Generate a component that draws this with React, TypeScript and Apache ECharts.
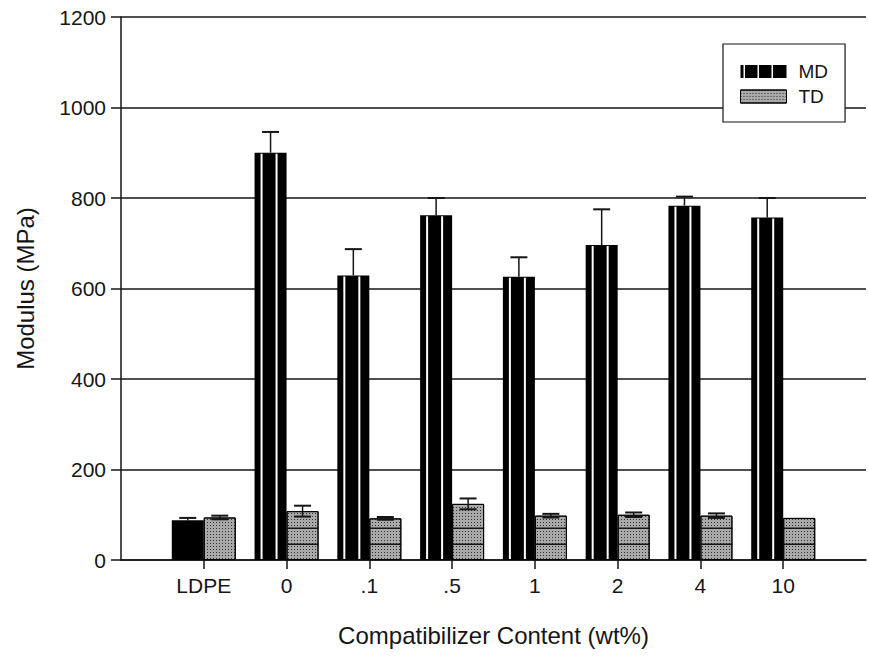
import React, { useEffect, useRef } from 'react';
import * as echarts from 'echarts';

// ---- data ----
const categories = ['LDPE', '0', '.1', '.5', '1', '2', '4', '10'];
const mdValues = [88, 900, 629, 762, 626, 696, 783, 757];
const mdErrors = [5, 46, 58, 38, 43, 79, 20, 43];
const tdValues = [94, 108, 92, 124, 98, 100, 98, 93];
const tdErrors = [4, 12, 3, 12, 4, 5, 5, 0];
const yMin = 0;
const yMax = 1200;
const yStep = 200;

// ---- styling constants ----
const BAR_W = 32;
const FONT = '"Liberation Sans", Arial, Helvetica, sans-serif';
const INK = '#151515';
const TD_BANDS = [35, 70];
const MD_ICON = 'path://M0,0H3V13H0Z M4.5,0H17V13H4.5Z M18.5,0H31V13H18.5Z M32.5,0H46V13H32.5Z';

const axisCats = ['', ...categories, ''];

function mdRender(params: any, api: any) {
  const i = api.value(0);
  const v = api.value(1);
  const e = api.value(2);
  const top = api.coord([i, v]);
  const base = api.coord([i, 0]);
  const errTop = api.coord([i, v + e]);
  const cx = top[0];
  const left = cx - BAR_W;
  const mid = cx - BAR_W / 2;
  const children: any[] = [];
  if (params.dataIndex > 0) {
    [7, 22].forEach((o) => {
      children.push({
        type: 'line',
        shape: { x1: left + o, y1: top[1] + 1, x2: left + o, y2: base[1] - 1 },
        style: { stroke: '#ffffff', lineWidth: 2 },
      });
    });
  }
  children.push({
    type: 'line',
    shape: { x1: mid, y1: top[1], x2: mid, y2: errTop[1] },
    style: { stroke: INK, lineWidth: 1.5 },
  });
  children.push({
    type: 'line',
    shape: { x1: mid - 8.5, y1: errTop[1], x2: mid + 8.5, y2: errTop[1] },
    style: { stroke: INK, lineWidth: 2 },
  });
  return { type: 'group', children };
}

function tdRender(params: any, api: any) {
  const i = api.value(0);
  const v = api.value(1);
  const e = api.value(2);
  const top = api.coord([i, v]);
  const cx = top[0];
  const left = cx;
  const mid = cx + BAR_W / 2;
  const children: any[] = [];
  if (params.dataIndex > 0) {
    TD_BANDS.forEach((b) => {
      if (b < v) {
        const p = api.coord([i, b]);
        children.push({
          type: 'line',
          shape: { x1: left, y1: p[1], x2: left + BAR_W, y2: p[1] },
          style: { stroke: INK, lineWidth: 1.5 },
        });
      }
    });
  }
  if (e > 0) {
    const hi = api.coord([i, v + e]);
    const lo = api.coord([i, v - e]);
    children.push({
      type: 'line',
      shape: { x1: mid, y1: lo[1], x2: mid, y2: hi[1] },
      style: { stroke: INK, lineWidth: 1.5 },
    });
    [hi[1], lo[1]].forEach((y) => {
      children.push({
        type: 'line',
        shape: { x1: mid - 8.5, y1: y, x2: mid + 8.5, y2: y },
        style: { stroke: INK, lineWidth: 2 },
      });
    });
  }
  return { type: 'group', children };
}

export default function App() {
  const ref = useRef<HTMLDivElement>(null);
  useEffect(() => {
    if (!ref.current) return;
    const chart = echarts.init(ref.current, null, { renderer: 'svg' });
    const last = axisCats.length - 1;
    chart.setOption({
      animation: false,
      backgroundColor: '#ffffff',
      textStyle: { fontFamily: FONT },
      grid: { left: 121, top: 17, width: 749, height: 543, containLabel: false },
      legend: {
        orient: 'vertical',
        left: 723,
        top: 44,
        backgroundColor: '#ffffff',
        borderColor: INK,
        borderWidth: 1.2,
        borderRadius: 0,
        padding: [18, 17, 16, 17],
        itemGap: 6,
        itemWidth: 46,
        itemHeight: 13,
        textStyle: { fontFamily: FONT, fontSize: 19, color: INK, padding: [0, 0, 0, 7] },
        data: [
          { name: 'MD', icon: MD_ICON, itemStyle: { color: '#000' } },
          { name: 'TD', icon: 'rect', itemStyle: { borderColor: '#000', borderWidth: 1 } },
        ],
      },
      xAxis: {
        type: 'category',
        data: axisCats,
        boundaryGap: false,
        name: 'Compatibilizer Content (wt%)',
        nameLocation: 'middle',
        nameGap: 63,
        nameTextStyle: { fontFamily: FONT, fontSize: 24, color: INK },
        axisLine: { show: true, lineStyle: { color: INK, width: 1.5 } },
        axisTick: {
          show: true,
          length: 9,
          lineStyle: { color: INK, width: 1.5 },
          interval: (idx: number) => idx > 0 && idx < last,
        },
        axisLabel: { interval: 0, fontFamily: FONT, fontSize: 21, color: INK, margin: 15 },
        splitLine: { show: false },
      },
      yAxis: {
        type: 'value',
        min: yMin,
        max: yMax,
        interval: yStep,
        name: 'Modulus (MPa)',
        nameLocation: 'middle',
        nameRotate: 90,
        nameGap: 84,
        nameTextStyle: { fontFamily: FONT, fontSize: 24, color: INK },
        axisLine: { show: true, lineStyle: { color: INK, width: 1.5 } },
        axisTick: { show: true, length: 10, lineStyle: { color: INK, width: 1.5 } },
        axisLabel: {
          fontFamily: FONT,
          fontSize: 21,
          color: INK,
          margin: 15,
          formatter: (v: number) => String(v),
        },
        splitLine: { show: true, lineStyle: { color: INK, width: 1.5 } },
      },
      series: [
        {
          name: 'MD',
          type: 'bar',
          barWidth: BAR_W,
          barGap: '0%',
          itemStyle: { color: '#000000' },
          data: mdValues.map((v, i) => [i + 1, v]),
        },
        {
          name: 'TD',
          type: 'bar',
          barWidth: BAR_W,
          barGap: '0%',
          itemStyle: {
            color: '#a9a9a9',
            borderColor: '#000000',
            borderWidth: 1,
            decal: {
              color: 'rgba(30,30,30,0.85)',
              symbol: 'rect',
              symbolSize: 1,
              dashArrayX: [1, 2],
              dashArrayY: [1, 2],
            },
          },
          data: tdValues.map((v, i) => [i + 1, v]),
        },
        {
          name: 'MD-detail',
          type: 'custom',
          z: 5,
          encode: { x: 0, y: 1 },
          renderItem: mdRender,
          data: mdValues.map((v, i) => [i + 1, v, mdErrors[i]]),
        },
        {
          name: 'TD-detail',
          type: 'custom',
          z: 5,
          encode: { x: 0, y: 1 },
          renderItem: tdRender,
          data: tdValues.map((v, i) => [i + 1, v, tdErrors[i]]),
        },
      ],
    });
    return () => chart.dispose();
  }, []);
  return (
    <div
      ref={ref}
      style={{ position: 'fixed', left: 0, top: 0, width: 869, height: 659, background: '#ffffff' }}
    />
  );
}
